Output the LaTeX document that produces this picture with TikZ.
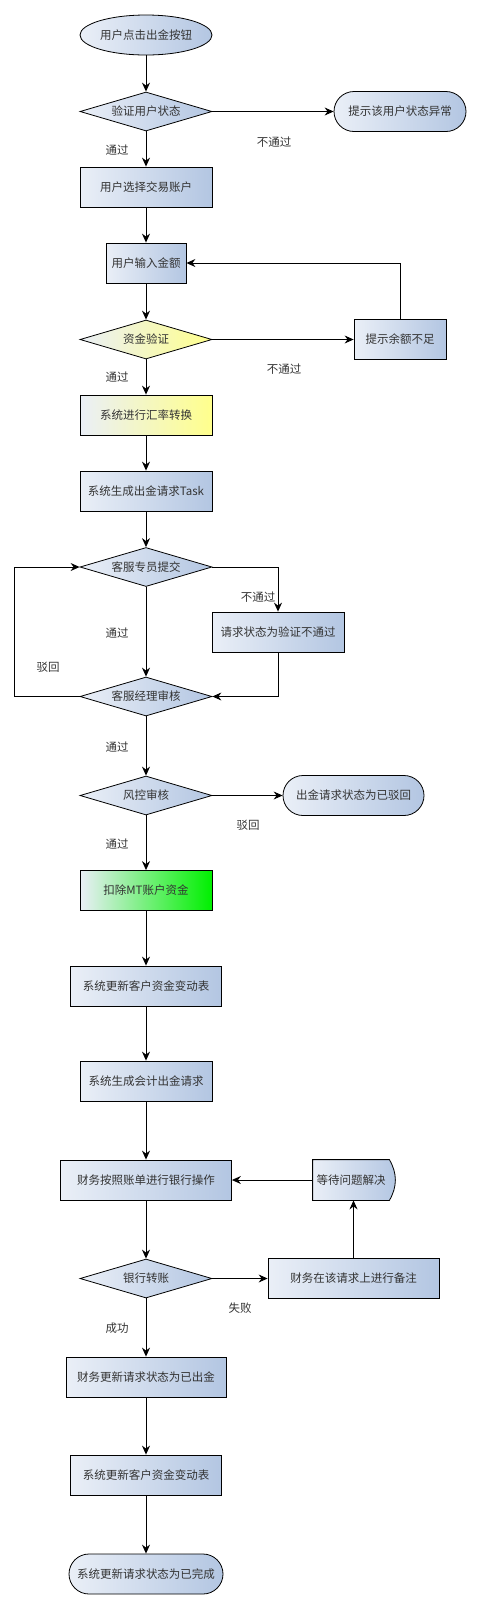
\documentclass[tikz,border=0pt]{standalone}
\usepackage{fontspec}
\setmainfont{Noto Sans CJK SC}
\usetikzlibrary{shapes.geometric,shapes.misc,arrows.meta}
\pgfdeclarelayer{back}
\pgfsetlayers{back,main}
\definecolor{boxlight}{HTML}{EAEFF7}
\definecolor{boxblue}{HTML}{B3C6E2}
\definecolor{boxyellow}{HTML}{FFFF8C}
\definecolor{boxgreen}{HTML}{00F000}
\begin{document}
\begin{tikzpicture}[x=1pt,y=-1pt,
    font=\fontsize{11.5}{13}\selectfont,
    base/.style={draw,line width=0.8pt,text=black!80,inner sep=0pt,minimum height=40pt},
    proc/.style={base,rectangle},
    check/.style={base,diamond,aspect=3.4,minimum width=132pt,minimum height=39pt},
    term/.style={base,rounded rectangle},
    flow/.style={line width=0.9pt,-{Stealth[length=9pt,width=8pt,inset=3pt]}},
    remark/.style={text=black!80,inner sep=1pt}]
      \useasboundingbox (0,0) rectangle (482,1610);
      \def \Boxes{
        choose/146/187/132/boxblue/用户选择交易账户,
        amount/146/263/80/boxblue/用户输入金额,
        short/400/339.5/92/boxblue/提示余额不足,
        rate/146/415/132/boxyellow/系统进行汇率转换,
        task/146/491/132/boxblue/系统生成出金请求Task,
        reject/278/632/132/boxblue/请求状态为验证不通过,
        deduct/146/890.5/132/boxgreen/扣除MT账户资金,
        log1/146/986/151/boxblue/系统更新客户资金变动表,
        acct/146/1081/132/boxblue/系统生成会计出金请求,
        bank/146/1180/171/boxblue/财务按照账单进行银行操作,
        note/353.5/1278.5/171/boxblue/财务在该请求上进行备注,
        paid/146/1377/160/boxblue/财务更新请求状态为已出金,
        log2/146/1475/151/boxblue/系统更新客户资金变动表}
      \def \Checks{
        status/111.5/boxblue/验证用户状态,
        funds/339.5/boxyellow/资金验证,
        agent/567/boxblue/客服专员提交,
        manager/696.5/boxblue/客服经理审核,
        risk/795.5/boxblue/风控审核,
        transfer/1278.5/boxblue/银行转账}
      \def \Ends{
        abnormal/400/111.5/132/提示该用户状态异常,
        refused/353.5/795.5/141/出金请求状态为已驳回,
        done/146/1574/154/系统更新请求状态为已完成}
      \def \Notes{
        n1/274/142/不通过,
        p1/117/150/通过,
        n2/284/369/不通过,
        p2/117/377/通过,
        n3/258/597/不通过,
        p3/117/633/通过,
        b1/48/667/驳回,
        p4/117/747/通过,
        b2/248/825/驳回,
        p5/117/844/通过,
        f1/240/1308/失败,
        s1/117/1328/成功}
      \def \Edges{
        start/status,
        status/choose,
        choose/amount,
        amount/funds,
        funds/rate,
        rate/task,
        task/agent,
        agent/manager,
        manager/risk,
        risk/deduct,
        deduct/log1,
        log1/acct,
        acct/bank,
        bank/transfer,
        transfer/paid,
        paid/log2,
        log2/done,
        status/abnormal,
        funds/short,
        risk/refused,
        transfer/note,
        wait/bank}
      \node[base,ellipse,minimum width=132pt,left color=boxlight,right color=boxblue] (start) at (146,35) {用户点击出金按钮};
      \foreach \id / \x / \y / \w / \rc / \lb in \Boxes{
        \node[proc,minimum width=\w pt,left color=boxlight,right color=\rc] (\id) at (\x, \y) {\lb};
      }
      \foreach \id / \y / \rc / \lb in \Checks{
        \node[check,left color=boxlight,right color=\rc] (\id) at (146, \y) {\lb};
      }
      \foreach \id / \x / \y / \w / \lb in \Ends{
        \node[term,minimum width=\w pt,left color=boxlight,right color=boxblue] (\id) at (\x, \y) {\lb};
      }
      \node[base,draw=none,minimum width=76pt] (wait) at (351,1180) {等待问题解决};
      \begin{pgfonlayer}{back}
        \path[draw,line width=0.8pt,left color=boxlight,right color=boxblue] (wait.north west) -- (wait.north east)
          to[bend left=30] (wait.south east) -- (wait.south west) -- cycle;
      \end{pgfonlayer}
      \foreach \id / \x / \y / \lb in \Notes{
        \node[remark] (\id) at (\x, \y) {\lb};
      }
      \foreach \a / \b in \Edges{
        \path[draw,flow] (\a) -- (\b);
      }
      \path[draw,flow] (short) |- (amount);
      \path[draw,flow] (agent) -| (reject);
      \path[draw,flow] (reject) |- (manager);
      \path[draw,flow] (manager.west) -- ++(-65,0) |- (agent.west);
      \path[draw,flow] (note.north) -- (note.north |- wait.south);
\end{tikzpicture}
\end{document}
